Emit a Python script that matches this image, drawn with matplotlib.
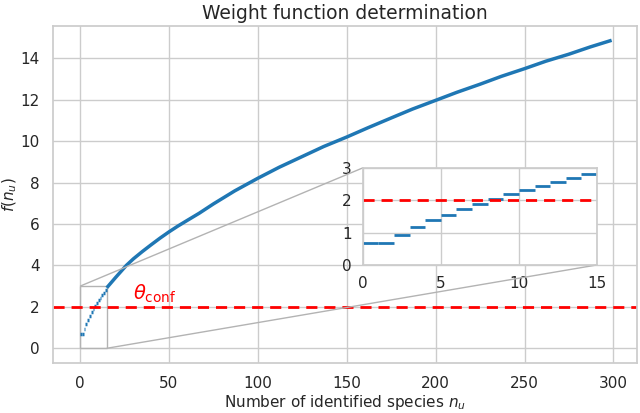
import matplotlib
matplotlib.use("Agg")
import matplotlib.pyplot as plt
import seaborn as sns
from mpl_toolkits.axes_grid1.inset_locator import mark_inset

# Step values for small n
step_n = [0, 1, 2, 3, 4, 5, 6, 7, 8, 9, 10, 11, 12, 13, 14]
step_f = [0.67, 0.67, 0.93, 1.17, 1.38, 1.55, 1.73, 1.89, 2.05, 2.18,
          2.33, 2.44, 2.56, 2.69, 2.81]

# Values
curve_n = [15, 20, 26, 30, 35, 40, 45, 50, 55, 60, 67, 75, 87, 100, 112,
           125, 137, 150, 162, 175, 187, 200, 212, 225, 237, 250, 262, 275,
           287, 299]
curve_f = [2.92, 3.42, 4.0, 4.32, 4.67, 5.0, 5.32, 5.62, 5.9, 6.16, 6.52,
           6.97, 7.6, 8.21, 8.74, 9.26, 9.74, 10.2, 10.65, 11.12, 11.55,
           11.97, 12.36, 12.75, 13.13, 13.5, 13.86, 14.2, 14.55, 14.87]

theta_conf = 2
xticks_main = [0, 50, 100, 150, 200, 250, 300]
yticks_main = [0, 2, 4, 6, 8, 10, 12, 14]
xticks_inset = [0, 5, 10, 15]
yticks_inset = [0, 1, 2, 3]

sns.set_theme(style="whitegrid")
plt.rcParams['font.family'] = ['DejaVu Sans']

blue = '#1f77b4'
fig = plt.figure(figsize=(6.4, 4.13), dpi=100)
ax = fig.add_axes([52.7 / 640, (413 - 363) / 413, 584 / 640, 337 / 413])

step_end = [n + 1 for n in step_n]
ax.hlines(step_f, step_n, step_end, colors=blue, lw=2.5)
ax.plot(curve_n, curve_f, color=blue, lw=2.5, solid_capstyle='butt')
ax.axhline(theta_conf, color='red', ls='--', lw=2, dashes=(4, 2.5))
ax.text(30, 2.1, r'$\theta_{\mathrm{conf}}$', color='red', fontsize=14,
        va='bottom', ha='left')

ax.set_xlim(-15.4, 313.1)
ax.set_ylim(-0.71, 15.56)
ax.set_xticks(xticks_main)
ax.set_yticks(yticks_main)
ax.set_xlabel('Number of identified species $n_u$', fontsize=11, labelpad=1)
ax.set_ylabel('$f(n_u)$', fontsize=11, labelpad=1)
ax.set_title('Weight function determination', fontsize=13.5, pad=5)
ax.tick_params(labelsize=11)

axins = ax.inset_axes([0.531, 0.291, 0.401, 0.288])
axins.hlines(step_f, step_n, step_end, colors=blue, lw=2)
axins.axhline(theta_conf, color='red', ls='--', lw=2, dashes=(4, 2.5))
axins.set_xlim(0, 15)
axins.set_ylim(0, 3)
axins.set_xticks(xticks_inset)
axins.set_yticks(yticks_inset)
axins.tick_params(labelsize=11, pad=2)
axins.set_facecolor('white')

mark_inset(ax, axins, loc1=2, loc2=4, fc='none', ec='0.7', lw=1)

fig.savefig('out.png', dpi=100)
